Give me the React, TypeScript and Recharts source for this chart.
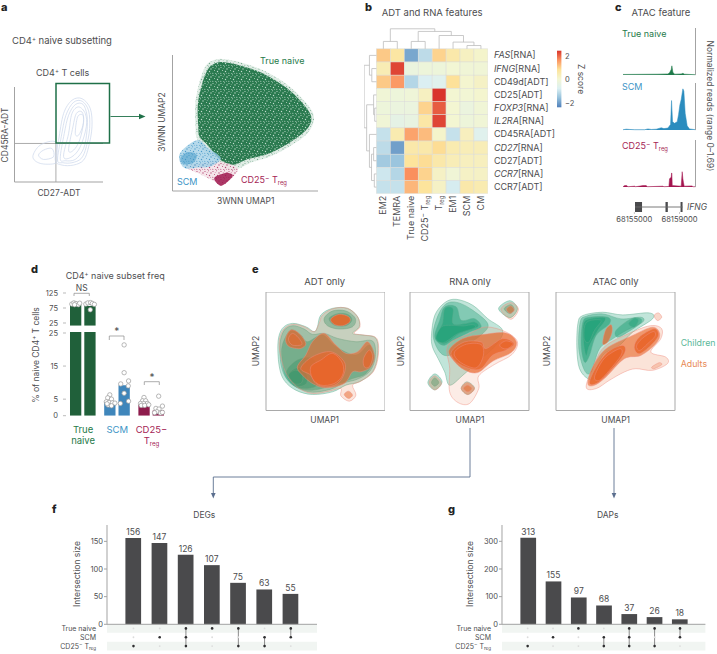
import React from 'react';
import {
  Area, AreaChart, Bar, BarChart, CartesianGrid, Cell as CellFill, LabelList, ReferenceArea, ReferenceLine,
  Scatter, ScatterChart, XAxis, YAxis,
} from 'recharts';

const FONT = 'Inter, "Noto Sans", sans-serif';
const INK = '#4d4d4f';
const GREEN = '#1f7a4a';
const BLUE = '#3d95c6';
const CRIMSON = '#a51e55';

// panel a
const gateMain = [
  [[165, 480], [175, 420], [190, 340], [215, 300], [245, 295], [270, 325], [275, 380], [265, 440], [250, 480], [220, 495], [185, 495]],
  [[172, 480], [183, 410], [197, 345], [220, 306], [246, 303], [265, 332], [268, 385], [258, 440], [243, 475], [215, 488], [188, 488]],
  [[180, 475], [192, 400], [205, 345], [225, 313], [248, 312], [260, 345], [260, 392], [250, 445], [225, 478], [195, 482]],
  [[190, 470], [205, 400], [215, 340], [235, 320], [255, 340], [258, 380], [240, 440], [215, 470]],
  [[205, 450], [218, 380], [228, 340], [245, 335], [250, 365], [238, 420], [220, 450]],
  [[225, 400], [232, 350], [248, 345], [248, 375], [235, 405]],
  [[98, 470], [120, 435], [165, 425], [170, 470], [165, 490], [120, 490]],
  [[115, 465], [130, 450], [155, 445], [160, 470], [130, 478]],
];
const umapNaive = [[100, 230], [100, 150], [125, 65], [155, 38], [190, 38], [240, 50], [300, 72], [370, 115], [425, 170], [442, 205], [425, 240], [370, 280], [310, 310], [250, 325], [215, 340], [190, 340], [160, 322], [130, 285], [105, 260]];
const umapNaiveHalo = [[92, 235], [92, 150], [118, 55], [155, 28], [195, 30], [245, 42], [305, 65], [375, 108], [432, 165], [450, 205], [430, 248], [375, 288], [315, 318], [260, 335], [225, 352], [195, 358], [150, 330], [110, 290], [95, 260]];
const umapScm = [[42, 325], [52, 298], [98, 268], [130, 292], [168, 322], [140, 346], [100, 350], [60, 352]];
const umapScmCore = [[46, 322], [68, 304], [95, 312], [85, 336], [55, 340]];
const umapTreg = [[60, 348], [100, 338], [160, 332], [218, 350], [205, 378], [170, 404], [150, 392], [110, 372]];
const umapTregCore = [[148, 382], [175, 368], [190, 366], [204, 376], [170, 404]];

// panel b
const heatCols = ['EM2', 'TEMRA', 'True naive', 'CD25− Treg', 'Treg', 'EM1', 'SCM', 'CM'];
const heatRows = ['FAS[RNA]', 'IFNG[RNA]', 'CD49d[ADT]', 'CD25[ADT]', 'FOXP3[RNA]', 'IL2RA[RNA]', 'CD45RA[ADT]', 'CD27[RNA]', 'CD27[ADT]', 'CCR7[RNA]', 'CCR7[ADT]'];
const heatZ = [
  [1.1, 0.7, -2.0, -1.2, 1.0, 0.6, 0.25, 0.1],
  [0.45, 2.35, -0.3, -0.2, -0.2, -0.05, -0.1, -0.1],
  [1.1, 1.6, -1.3, -0.85, -0.7, 0.85, 0.05, 0.2],
  [-0.1, -0.2, -0.15, 0.25, 2.5, 0, -0.05, 0.05],
  [-0.2, -0.3, -0.3, 1.0, 2.15, 0, -0.3, -0.1],
  [-0.1, -0.5, -0.4, 0.65, 2.35, 0, -0.2, -0.1],
  [-1.1, 0.5, 1.5, 1.25, 0.1, -1.1, 0.3, -0.7],
  [-1.2, -2.1, 0.6, 0.6, 0.9, 0.5, 0.4, 0.4],
  [-1.5, -1.6, 0.8, 0.9, 0.6, 0.4, 0.3, 0.3],
  [-1.0, -1.3, 1.7, 1.0, 0.2, -0.1, 0.2, 0.2],
  [-1.1, -1.1, 1.3, 0.8, 0.2, -0.9, 0.6, 0.5],
];
const colBranches = [
  [0.5, 1.5, 0, 0, -0.56], [2.5, 3.5, 0, 0, -0.56], [6.5, 7.5, 0, 0, -0.25], [5.5, 7, 0, -0.25, -0.51],
  [4.5, 6.25, 0, -0.51, -1.01], [3, 5.375, -0.56, -1.01, -1.32], [1, 4.19, -0.56, -1.32, -1.52],
];
const rowBranches = [
  [1.5, 2.5, 0, 0, -0.33], [0.5, 2, 0, -0.33, -0.5], [4.5, 5.5, 0, 0, -0.12], [3.5, 5, 0, -0.12, -0.2],
  [7.5, 8.5, 0, 0, -0.2], [9.5, 10.5, 0, 0, -0.15], [8, 10, -0.2, -0.15, -0.35], [6.5, 9, 0, -0.35, -0.5],
  [4.25, 7.75, -0.2, -0.5, -0.7], [1.25, 6, -0.5, -0.7, -0.88],
];

// panel c
const trackNaive = [[25, .02], [130, .03], [160, .04], [165, .08], [170, .2], [172, .33], [175, .1], [180, .03], [200, .04], [205, .06], [210, .03], [243, .01]];
const trackScm = [[25, .01], [35, .03], [45, .02], [60, .01], [90, .01], [100, .04], [110, .02], [125, .03], [140, .08], [148, .05], [160, .07], [168, .2], [171, 1.06], [174, .3], [180, .24], [188, .3], [192, .55], [196, .9], [200, 1.1], [205, 1.48], [208, 1.4], [212, .6], [218, .15], [225, .04], [243, .01]];
const trackTreg = [[25, .01], [30, .05], [36, .05], [40, .01], [60, .03], [63, .01], [85, .05], [95, .05], [98, .01], [145, .03], [148, .01], [163, .02], [165, .3], [170, .35], [171, .5], [172, .5], [173, .05], [200, .03], [203, .55], [205, .3], [207, .15], [209, .03], [232, .04], [236, .01], [243, .01]];
const exonStarts = [68155059, 68157756, 68159089];
const exonEnds = [68155681, 68157963, 68159267];
const geneTicks = [68155000, 68159000];

// panel d
const subsetGroups = ['True naive', 'SCM', 'CD25− Treg'];
const childFreq = [86, 4.2, 3.3];
const adultFreq = [82, 9.2, 1.6];
const dotsUpper = [[.17, 88], [.23, 92], [.29, 90], [.36, 86], [.40, 91], [.25, 86], [.58, 88], [.64, 92], [.72, 93], [.77, 90], [.83, 87], [.71, 69]];
const dotsLower = [
  [1.28, 6.3], [1.22, 5.4], [1.33, 5], [1.18, 4.2], [1.26, 4], [1.36, 3.9], [1.43, 3.8], [1.23, 3.2], [1.33, 3], [1.2, 3.6],
  [1.7, 21.4], [1.7, 13], [1.83, 10.5], [1.6, 9.6], [1.82, 9], [1.7, 6.8], [1.83, 4.4], [1.59, 3.7],
  [2.28, 5.5], [2.24, 4.5], [2.33, 4.5], [2.18, 3.7], [2.28, 3.7], [2.38, 3.7], [2.2, 3.1], [2.3, 3.1], [2.42, 3.3],
  [2.71, 5.9], [2.82, 2.9], [2.63, 2.2], [2.72, 2], [2.66, 1.2], [2.76, .8], [2.82, 1], [2.59, .9],
];

// panel e, contours from outermost to innermost
const adtChildren = [
  [[47, 160], [60, 120], [90, 105], [130, 115], [155, 130], [165, 115], [175, 80], [210, 60], [255, 60], [285, 85], [290, 115], [270, 135], [300, 140], [340, 150], [345, 200], [330, 250], [290, 280], [250, 290], [210, 310], [150, 318], [100, 305], [65, 275], [50, 230]],
  [[53, 165], [66, 125], [92, 112], [125, 122], [150, 138], [185, 135], [225, 150], [280, 160], [330, 158], [338, 205], [322, 248], [285, 272], [245, 283], [205, 302], [150, 311], [105, 298], [72, 270], [56, 228]],
  [[185, 90], [210, 68], [250, 68], [278, 90], [270, 115], [230, 122], [195, 112]],
  [[200, 90], [225, 76], [255, 78], [268, 95], [250, 112], [215, 110]],
  [[60, 170], [85, 125], [115, 140], [135, 160], [180, 140], [220, 175], [280, 200], [320, 170], [335, 210], [310, 255], [270, 270], [230, 285], [150, 305], [100, 295], [70, 265], [60, 220]],
  [[72, 250], [105, 215], [150, 210], [170, 250], [165, 290], [120, 300], [88, 285]],
  [[78, 260], [105, 238], [132, 255], [132, 285], [105, 292]],
  [[78, 260], [100, 245], [120, 260], [118, 282], [98, 286]],
];
const adtAdults = [
  [[50, 165], [62, 125], [90, 108], [125, 115], [155, 130], [170, 105], [180, 80], [215, 60], [255, 60], [285, 85], [292, 115], [275, 135], [305, 140], [342, 150], [347, 200], [332, 250], [295, 278], [270, 290], [280, 320], [260, 338], [235, 322], [235, 300], [200, 308], [150, 315], [110, 300], [80, 270], [60, 225]],
  [[70, 150], [85, 125], [110, 135], [130, 165], [115, 180], [90, 178], [75, 170]],
  [[78, 152], [90, 135], [108, 148], [118, 168], [90, 170]],
  [[205, 92], [230, 78], [258, 85], [262, 100], [240, 112], [215, 108]],
  [[105, 235], [130, 200], [150, 160], [185, 135], [220, 170], [250, 195], [285, 190], [315, 160], [335, 200], [325, 235], [295, 250], [270, 250], [245, 285], [190, 298], [150, 285], [120, 260]],
  [[115, 240], [150, 205], [205, 190], [245, 220], [245, 255], [225, 285], [190, 295], [160, 285], [145, 260]],
  [[145, 235], [175, 215], [210, 195], [240, 225], [240, 260], [215, 285], [175, 290], [150, 270]],
  [[303, 210], [320, 185], [330, 205], [320, 235], [305, 235]],
  [[245, 318], [258, 308], [270, 320], [258, 330]],
];
const rnaChildren = [
  [[75, 140], [85, 80], [115, 42], [150, 32], [200, 50], [245, 90], [290, 125], [270, 170], [220, 215], [170, 260], [130, 290], [115, 250], [95, 210], [78, 175]],
  [[80, 140], [95, 80], [120, 45], [155, 42], [200, 65], [245, 105], [230, 135], [180, 170], [130, 200], [100, 190]],
  [[85, 145], [100, 95], [115, 55], [150, 55], [165, 95], [205, 90], [225, 115], [190, 130], [140, 155], [110, 170]],
  [[90, 145], [108, 105], [115, 60], [140, 60], [140, 105], [175, 105], [205, 100], [215, 115], [160, 135], [115, 165]],
  [[88, 150], [105, 115], [135, 110], [170, 112], [200, 108], [205, 118], [155, 135], [112, 162]],
  [[64, 282], [85, 256], [107, 280], [85, 304]],
  [[75, 282], [85, 268], [97, 282], [85, 293]],
  [[278, 60], [312, 36], [335, 60], [312, 87]],
  [[295, 60], [315, 48], [325, 62], [312, 75]],
  [[165, 300], [182, 280], [205, 298], [185, 318]],
];
const rnaAdults = [
  [[125, 170], [190, 135], [240, 115], [300, 130], [335, 160], [318, 198], [265, 228], [218, 262], [218, 300], [190, 345], [155, 342], [130, 310], [130, 240]],
  [[128, 185], [170, 150], [230, 138], [300, 133], [332, 160], [316, 192], [260, 218], [215, 252], [175, 244], [143, 217]],
  [[135, 190], [175, 160], [225, 160], [240, 180], [290, 150], [325, 165], [300, 185], [260, 200], [225, 240], [190, 240], [150, 220]],
  [[145, 190], [180, 167], [225, 168], [232, 200], [215, 235], [190, 235], [155, 215]],
  [[282, 168], [300, 157], [322, 165], [305, 180], [288, 178]],
  [[165, 300], [183, 282], [205, 300], [185, 318]],
  [[172, 300], [184, 290], [197, 300], [185, 310]],
  [[68, 282], [85, 262], [105, 285], [85, 304]],
  [[285, 62], [315, 42], [338, 62], [315, 92]],
  [[302, 62], [315, 52], [325, 64], [313, 74]],
];
const atacChildren = [
  [[72, 180], [75, 105], [90, 80], [150, 70], [210, 78], [290, 72], [300, 90], [240, 130], [200, 170], [150, 200], [125, 265], [105, 270], [80, 240]],
  [[78, 180], [82, 100], [100, 82], [150, 75], [205, 90], [265, 85], [270, 100], [220, 125], [180, 150], [140, 180], [115, 250], [95, 245]],
  [[85, 170], [90, 100], [110, 85], [165, 85], [170, 105], [130, 140], [110, 200], [95, 220]],
  [[92, 160], [92, 105], [110, 90], [158, 88], [135, 125], [110, 170], [100, 200]],
  [[94, 150], [96, 110], [112, 95], [145, 95], [125, 125], [108, 160]],
  [[190, 125], [235, 90], [265, 90], [262, 105], [225, 130], [195, 145]],
  [[228, 105], [245, 88], [258, 95], [245, 115]],
];
const atacAdults = [
  [[100, 295], [125, 225], [160, 170], [250, 125], [300, 110], [328, 120], [325, 150], [295, 190], [340, 205], [345, 225], [300, 245], [250, 240], [215, 250], [170, 275], [130, 300]],
  [[305, 80], [318, 72], [328, 85], [315, 95]],
  [[105, 285], [120, 235], [160, 180], [240, 140], [300, 115], [322, 135], [310, 165], [265, 200], [215, 210], [160, 265], [125, 290]],
  [[110, 282], [130, 235], [165, 190], [210, 170], [215, 195], [165, 255], [130, 285]],
  [[245, 175], [260, 145], [305, 120], [318, 140], [295, 170], [260, 195]],
  [[150, 165], [158, 125], [175, 108], [178, 130], [165, 160]],
  [[125, 265], [150, 215], [180, 190], [205, 180], [205, 200], [170, 245], [140, 275]],
  [[252, 172], [268, 150], [302, 128], [308, 142], [285, 165], [262, 185]],
  [[298, 235], [320, 222], [328, 228], [305, 240]],
];

// panels f and g
const degSizes = [156, 147, 126, 107, 75, 63, 55];
const dapSizes = [313, 155, 97, 68, 37, 26, 18];
const degSets = [[2], [1], [0, 1, 2], [0], [0, 2], [1, 2], [0, 1]];
const dapSets = [[2], [1], [0], [1, 2], [0, 1, 2], [0, 2], [0, 1]];
const setNames = ['True naive', 'SCM', 'CD25− Treg'];

const toPts = (list: number[][]) => list.map(([x, y]) => ({ x, y }));
const NoDot = () => <g />;

// closed curve through the listed points, handed to Scatter as lineJointType
const throughPoints = (ctx: any) => {
  let p: number[][] = [];
  return {
    areaStart() {},
    areaEnd() {},
    lineStart() { p = []; },
    point(x: number, y: number) { p.push([+x, +y]); },
    lineEnd() {
      const n = p.length;
      if (!n) return;
      ctx.moveTo(p[0][0], p[0][1]);
      for (let i = 0; i < n; i++) {
        const a = p[(i - 1 + n) % n];
        const b = p[i];
        const c = p[(i + 1) % n];
        const d = p[(i + 2) % n];
        ctx.bezierCurveTo(b[0] + (c[0] - a[0]) / 6, b[1] + (c[1] - a[1]) / 6, c[0] - (d[0] - b[0]) / 6, c[1] - (d[1] - b[1]) / 6, c[0], c[1]);
      }
      ctx.closePath();
    },
  };
};

const RAMP = ['#4f7fba', '#95c1dc', '#dcf0f2', '#f3f6d2', '#fde39a', '#fb9360', '#d9342b'];
function zColor(z: number) {
  const t = Math.max(0, Math.min(0.9999, (z + 2.5) / 5)) * (RAMP.length - 1);
  const i = Math.floor(t);
  const mix = (o: number) => {
    const pa = parseInt(RAMP[i].slice(o, o + 2), 16);
    const pb = parseInt(RAMP[i + 1].slice(o, o + 2), 16);
    return Math.round(pa + (pb - pa) * (t - i));
  };
  return `rgb(${mix(1)},${mix(3)},${mix(5)})`;
}

function blob(pts: number[][], key: string, fill: string, stroke: string, fillOpacity = 1, strokeWidth = 0.5, filter?: string) {
  return (
    <Scatter
      key={key}
      data={toPts(pts)}
      line={{ fill, fillOpacity, stroke, strokeWidth, strokeOpacity: 0.9, filter } as any}
      lineJointType={throughPoints as any}
      shape={NoDot}
      isAnimationActive={false}
    />
  );
}

function branch(b: number[], key: string, vertical: boolean) {
  const [a, c, ya, yc, top] = b;
  const raw = [[a, ya], [a, top], [c, top], [c, yc]];
  const pts = vertical ? raw.map(([p, q]) => ({ x: q, y: p })) : raw.map(([p, q]) => ({ x: p, y: q }));
  return (
    <Scatter key={key} data={pts} line={{ stroke: '#bdbdbd', strokeWidth: 0.8 }} lineJointType="linear" shape={NoDot} isAnimationActive={false} />
  );
}

function At({ x, y, children }: { x: number; y: number; children: React.ReactNode }) {
  return <div style={{ position: 'absolute', left: x, top: y }}>{children}</div>;
}

function Treg({ s }: { s: number }) {
  return (
    <>
      <tspan>CD25</tspan>
      <tspan dy={-s * 0.3} fontSize={s * 0.75}>−</tspan>
      <tspan dy={s * 0.3}> T</tspan>
      <tspan dy={s * 0.22} fontSize={s * 0.65}>reg</tspan>
    </>
  );
}

function Label({ value, s }: { value: string; s: number }) {
  if (value === 'CD25− Treg') return <Treg s={s} />;
  if (value === 'Treg') {
    return (
      <>
        <tspan>T</tspan>
        <tspan dy={s * 0.22} fontSize={s * 0.65}>reg</tspan>
      </>
    );
  }
  const open = value.indexOf('[');
  if (open > 0 && value.includes('[RNA]')) {
    return (
      <>
        <tspan fontStyle="italic">{value.slice(0, open)}</tspan>
        <tspan>{value.slice(open)}</tspan>
      </>
    );
  }
  return <tspan>{value}</tspan>;
}

function T({ x, y, children, size = 9.5, color = INK, anchor = 'start', rot, bold, italic }: any) {
  return (
    <text
      x={x}
      y={y}
      fontSize={size}
      fill={color}
      textAnchor={anchor}
      fontFamily={FONT}
      fontWeight={bold ? 800 : 400}
      fontStyle={italic ? 'italic' : undefined}
      transform={rot ? `rotate(${rot} ${x} ${y})` : undefined}
    >
      {children}
    </text>
  );
}

const tickStyle = { fontSize: 7.5, fill: INK, fontFamily: FONT };
const GRAY = '#a3a3a3';

function GatePlot() {
  return (
    <At x={4} y={80}>
      <ScatterChart width={102} height={110} margin={{ top: 7, right: 3, left: 0, bottom: 0 }}>
        <XAxis type="number" dataKey="x" domain={[43, 308]} ticks={[55, 118, 183, 247]} tick={false} height={8} tickSize={3} stroke={GRAY} interval={0} allowDataOverflow />
        <YAxis type="number" dataKey="y" domain={[260, 546]} reversed ticks={[300, 368, 506]} tick={false} width={10.5} tickSize={3} stroke={GRAY} interval={0} allowDataOverflow />
        {gateMain.map((c, i) => blob(c, `g${i}`, 'none', '#cdd8ec', 1, 0.8))}
        <ReferenceLine y={430} stroke={GRAY} strokeWidth={0.9} />
        <ReferenceLine segment={[{ x: 167, y: 430 }, { x: 167, y: 546 }]} stroke={GRAY} strokeWidth={0.9} />
      </ScatterChart>
    </At>
  );
}

function UmapPlot() {
  const soft = 'url(#soft)';
  return (
    <At x={164} y={50}>
      <ScatterChart width={156} height={146} margin={{ top: 5, right: 2, left: 0, bottom: 0 }}>
        <XAxis type="number" dataKey="x" domain={[22, 462]} ticks={[125, 238, 352]} tick={false} height={5} tickSize={3} stroke={GRAY} interval={0} allowDataOverflow />
        <YAxis type="number" dataKey="y" domain={[15, 420]} reversed ticks={[93, 205, 315]} tick={false} width={8.5} tickSize={3} stroke={GRAY} interval={0} allowDataOverflow />
        {blob(umapNaiveHalo, 'nh', 'url(#speckHalo)', 'none', 1, 0, soft)}
        {blob(umapNaive, 'n', 'url(#speckGreen)', 'none', 1, 0, soft)}
        {blob(umapTreg, 't', 'url(#speckPink)', 'none', 1, 0, soft)}
        {blob(umapScm, 's', 'url(#speckBlue)', 'none', 1, 0, soft)}
        {blob(umapScmCore, 'sc', BLUE, 'none', 0.5, 0, soft)}
        {blob(umapTregCore, 'tc', '#a01a50', 'none', 0.85, 0, soft)}
      </ScatterChart>
    </At>
  );
}

function Heatmap() {
  const cells = heatZ.flatMap((row, r) => row.map((z, c) => ({ x: c + 0.5, y: r + 0.5, z })));
  const CW = 13.93;
  const CH = 13.15;
  const Cell = (p: any) => (
    <rect x={p.cx - CW / 2} y={p.cy - CH / 2} width={CW} height={CH} fill={zColor(p.payload.z)} stroke="#dcdcd8" strokeWidth={0.5} />
  );
  const ColTick = ({ x, y, payload }: any) => {
    const label = heatCols[Math.round(payload.value - 0.5)];
    return (
      <text transform={`translate(${x + 3} ${y - 6}) rotate(-90)`} textAnchor="end" fontSize={9} fill={INK} fontFamily={FONT}>
        <Label value={label} s={9} />
      </text>
    );
  };
  const RowTick = ({ x, y, payload }: any) => (
    <text x={x - 2} y={y + 3} fontSize={9} fill={INK} fontFamily={FONT}>
      <Label value={heatRows[Math.round(payload.value - 0.5)]} s={9} />
    </text>
  );
  return (
    <At x={363.8} y={28}>
      <ScatterChart width={123.9 + 76} height={165.7 + 62} margin={{ top: 0, right: 0, left: 0, bottom: 0 }}>
        <XAxis type="number" dataKey="x" domain={[-0.89, 8]} ticks={heatCols.map((_, i) => i + 0.5)} height={62} axisLine={false} tickLine={false} tick={<ColTick />} interval={0} allowDataOverflow />
        <YAxis type="number" dataKey="y" orientation="right" domain={[-1.58, 11]} reversed ticks={heatRows.map((_, i) => i + 0.5)} width={76} axisLine={false} tickLine={false} tick={<RowTick />} interval={0} allowDataOverflow />
        <Scatter data={cells} shape={Cell} isAnimationActive={false} />
        {colBranches.map((b, i) => branch(b, `c${i}`, false))}
        {rowBranches.map((b, i) => branch(b, `r${i}`, true))}
      </ScatterChart>
    </At>
  );
}

function Track({ data, color, top }: { data: number[][]; color: string; top: number }) {
  const rows = data.map(([pos, reads]) => ({ pos, reads }));
  return (
    <At x={623.3} y={top}>
      <AreaChart width={73.5} height={49} data={rows} margin={{ top: 1, right: 0, left: 0, bottom: 0 }}>
        <XAxis type="number" dataKey="pos" domain={[25, 243]} tick={false} tickLine={false} axisLine={false} height={1} />
        <YAxis orientation="right" domain={[0, 1.69]} ticks={[]} tick={false} tickLine={false} stroke={GRAY} width={1} />
        <Area type="linear" dataKey="reads" stroke={color} strokeWidth={0.5} fill={color} fillOpacity={1} isAnimationActive={false} />
      </AreaChart>
    </At>
  );
}

function GeneModel() {
  return (
    <At x={611} y={201}>
      <ScatterChart width={97} height={28} margin={{ top: 1, right: 11.7, left: 0, bottom: 0 }}>
        <XAxis
          type="number"
          dataKey="x"
          domain={[68154022, 68160484]}
          ticks={geneTicks}
          axisLine={false}
          tickSize={2}
          tickMargin={3}
          stroke="#c8c8c8"
          height={17}
          interval={0}
          tick={{ fontSize: 7.6, fill: INK, fontFamily: FONT }}
          tickFormatter={(v: number) => String(v)}
        />
        <YAxis type="number" dataKey="y" domain={[0, 1]} tick={false} axisLine={false} tickLine={false} width={12.3} />
        <Scatter data={exonStarts.map((x) => ({ x, y: 0.5 }))} shape={NoDot} isAnimationActive={false} />
        <ReferenceLine segment={[{ x: exonStarts[0], y: 0.5 }, { x: exonEnds[2], y: 0.5 }]} stroke="#6b6b6b" strokeWidth={0.9} />
        {exonStarts.map((s, i) => (
          <ReferenceArea key={s} x1={s} x2={exonEnds[i]} y1={0} y2={1} fill="#4a4a4c" fillOpacity={1} stroke="none" />
        ))}
      </ScatterChart>
    </At>
  );
}

function SubsetBars() {
  const rows = subsetGroups.map((name, i) => ({ name, child: childFreq[i], adult: adultFreq[i] }));
  const upperRows = rows.map((r, i) => (i === 0 ? r : { name: r.name, child: null, adult: null }));
  const colors = ['#20603a', '#3f86bb', '#8e1c4c'];
  const GroupTick = ({ x, y, payload }: any) => {
    const i = subsetGroups.indexOf(payload.value);
    const lines = [['True', 'naive'], ['SCM'], ['CD25−', 'Treg']][i];
    return (
      <text x={x} y={y + 9} textAnchor="middle" fontSize={9.5} fill={[GREEN, BLUE, CRIMSON][i]} fontFamily={FONT}>
        {lines.map((l, k) => (
          <tspan key={l} x={x} dy={k === 0 ? 0 : 11.5}>
            {l === 'Treg' ? <Label value="Treg" s={9.5} /> : l}
          </tspan>
        ))}
      </text>
    );
  };
  const bars = (dataKey: string) => (
    <Bar dataKey={dataKey} barSize={11.3} isAnimationActive={false}>
      {rows.map((_, i) => <CellFill key={i} fill={colors[i]} />)}
    </Bar>
  );
  const Dot = (p: any) => <circle cx={p.cx} cy={p.cy} r={2.2} fill="#fff" stroke="#9a9a9a" strokeWidth={0.7} />;
  const pad = { top: 6, right: 0, left: 0, bottom: 0 };
  return (
    <>
      <At x={36.2} y={287.3}>
        <BarChart width={132.6} height={39.7} data={upperRows} margin={pad} barGap={3}>
          <XAxis dataKey="name" tick={false} tickLine={false} axisLine={false} height={1} />
          <YAxis type="number" domain={[16, 125]} ticks={[25, 75, 125]} width={30} tick={tickStyle} axisLine={false} tickSize={3} tickMargin={5} stroke="#bbb" interval={0} allowDataOverflow />
          {bars('child')}
          {bars('adult')}
        </BarChart>
      </At>
      <At x={36.2} y={326}>
        <BarChart width={132.6} height={122} data={rows} margin={pad} barGap={3}>
          <XAxis dataKey="name" tickLine={false} axisLine={false} height={32.3} tick={<GroupTick />} interval={0} />
          <YAxis type="number" domain={[0, 25.3]} ticks={[0, 5, 15, 25]} width={30} tick={tickStyle} axisLine={false} tickSize={3} tickMargin={5} stroke="#bbb" interval={0} allowDataOverflow />
          {bars('child')}
          {bars('adult')}
        </BarChart>
      </At>
      <At x={36.2} y={287.3}>
        <ScatterChart width={132.6} height={39.7} margin={pad}>
          <XAxis type="number" dataKey="x" domain={[0, 3]} tick={false} tickLine={false} axisLine={false} height={1} />
          <YAxis type="number" dataKey="y" domain={[16, 125]} tick={false} tickLine={false} axisLine={false} width={30} allowDataOverflow />
          <Scatter data={toPts(dotsUpper)} shape={Dot} isAnimationActive={false} />
        </ScatterChart>
      </At>
      <At x={36.2} y={326}>
        <ScatterChart width={132.6} height={90.7} margin={pad}>
          <XAxis type="number" dataKey="x" domain={[0, 3]} tick={false} tickLine={false} axisLine={false} height={1} />
          <YAxis type="number" dataKey="y" domain={[0, 25.3]} tick={false} tickLine={false} axisLine={false} width={30} allowDataOverflow />
          <Scatter data={toPts(dotsLower)} shape={Dot} isAnimationActive={false} />
        </ScatterChart>
      </At>
    </>
  );
}

function Density({ x, dom, children, adults, xt, yt, xg, yg, cOp, aOp }: any) {
  const [lo, hi, ylo, yhi] = dom;
  const haze = 'url(#haze)';
  return (
    <At x={x - 5} y={291.7}>
      <ScatterChart width={124.5} height={123.5} margin={{ top: 0, right: 0.5, left: 0, bottom: 0 }}>
        <CartesianGrid stroke="#e4e4e8" strokeWidth={0.8} verticalValues={xg} horizontalValues={yg} />
        <XAxis type="number" dataKey="x" domain={[lo, hi]} ticks={xt} tick={false} height={5} tickSize={2.5} stroke={GRAY} interval={0} axisLine={false} allowDataOverflow />
        <YAxis type="number" dataKey="y" domain={[ylo, yhi]} reversed ticks={yt} tick={false} width={5} tickSize={2.5} stroke={GRAY} interval={0} axisLine={false} allowDataOverflow />
        {children.map((c: number[][], i: number) => blob(c, `c${i}`, '#27a37b', '#5aad8f', cOp[i], 0.5, haze))}
        {adults.map((c: number[][], i: number) => blob(c, `a${i}`, '#e8652a', '#ef8f80', aOp[i], 0.5, haze))}
        <ReferenceArea x1={lo} x2={hi} y1={ylo} y2={yhi} fill="none" stroke="#a9a9a9" strokeWidth={1} />
      </ScatterChart>
    </At>
  );
}

function UpSet({ x0, x1, sizes, sets, top, yticks, names }: any) {
  const rows = sizes.map((v: number, i: number) => ({ name: `s${i}`, v }));
  const width = x1 - x0;
  const pad = 30;
  const on = sets.flatMap((s: number[], c: number) => s.map((r: number) => ({ x: c, y: r + 0.5 })));
  const off = sets.flatMap((s: number[], c: number) => [0, 1, 2].filter((r) => !s.includes(r)).map((r) => ({ x: c, y: r + 0.5 })));
  const Small = (p: any) => <circle cx={p.cx} cy={p.cy} r={0.9} fill="#dcdcdc" />;
  const Big = (p: any) => <circle cx={p.cx} cy={p.cy} r={1.3} fill="#2e2e30" />;
  const RowTick = ({ x, y, payload }: any) => (
    <text x={x - 3} y={y + 2.5} textAnchor="end" fontSize={7} fill={INK} fontFamily={FONT}>
      <Label value={names[Math.round(payload.value - 0.5)]} s={7} />
    </text>
  );
  return (
    <>
      <At x={x0 - 60} y={624.3}>
        <ScatterChart width={width + 60} height={27} margin={{ top: 0, right: 0, left: 0, bottom: 0 }}>
          <XAxis type="number" dataKey="x" domain={[-1.01, 7]} tick={false} tickLine={false} axisLine={false} height={0.5} />
          <YAxis type="number" dataKey="y" domain={[0, 3]} reversed ticks={[0.5, 1.5, 2.5]} width={60} axisLine={false} tickLine={false} tick={<RowTick />} interval={0} />
          <ReferenceArea x1={-1.01} x2={7} y1={0} y2={1} fill="#f1f5f2" fillOpacity={1} stroke="none" />
          <ReferenceArea x1={-1.01} x2={7} y1={2} y2={3} fill="#f1f5f2" fillOpacity={1} stroke="none" />
          {sets.map((s: number[], c: number) => s.length > 1 && (
            <Scatter
              key={c}
              data={[{ x: c, y: Math.min(...s) + 0.5 }, { x: c, y: Math.max(...s) + 0.5 }]}
              line={{ stroke: '#6d6d6d', strokeWidth: 0.8 }}
              lineJointType="linear"
              shape={NoDot}
              isAnimationActive={false}
            />
          ))}
          <Scatter data={off} shape={Small} isAnimationActive={false} />
          <Scatter data={on} shape={Big} isAnimationActive={false} />
        </ScatterChart>
      </At>
      <At x={x0 - pad} y={525}>
        <BarChart width={width + pad} height={105} data={rows} margin={{ top: 0, right: 0, left: 0, bottom: 0 }}>
          <XAxis dataKey="name" tick={false} tickLine={false} height={5.7} stroke={GRAY} padding={{ left: 13.4, right: 13.2 }} />
          <YAxis type="number" domain={[0, top]} ticks={yticks} width={pad} tick={tickStyle} tickSize={3} tickMargin={1} stroke={GRAY} interval={0} />
          <Bar dataKey="v" fill="#4a4a4c" barSize={15.7} isAnimationActive={false}>
            <LabelList dataKey="v" position="top" offset={3} fontSize={8.5} fill={INK} fontFamily={FONT} />
          </Bar>
        </BarChart>
      </At>
    </>
  );
}

function Arrow({ d, color, tip }: { d: string; color: string; tip: string }) {
  return (
    <>
      <path d={d} fill="none" stroke={color} strokeWidth={0.9} />
      <polygon points={tip} fill={color} />
    </>
  );
}

function Notes() {
  return (
    <svg width={717} height={654} style={{ position: 'absolute', left: 0, top: 0, pointerEvents: 'none' }}>
      <defs>
        <linearGradient id="zbar" x1="0" y1="1" x2="0" y2="0">
          {RAMP.map((c, i) => <stop key={c} offset={i / (RAMP.length - 1)} stopColor={c} />)}
        </linearGradient>
      </defs>
      <T x={1} y={11} size={11} bold color="#222">a</T>
      <T x={12} y={43.5}>CD4<tspan dy={-3} fontSize={6}>+</tspan><tspan dy={3}> naive subsetting</tspan></T>
      <T x={36} y={75.5} size={9}>CD4<tspan dy={-3} fontSize={6}>+</tspan><tspan dy={3}> T cells</tspan></T>
      <T x={8} y={135} rot={-90} anchor="middle" size={8.5}>CD45RA-ADT</T>
      <T x={59} y={196} anchor="middle" size={8.5}>CD27-ADT</T>
      <rect x={56} y={83.5} width={53.5} height={59.5} fill="none" stroke="#1f7048" strokeWidth={1.5} />
      <Arrow d="M110.5 116.5 H140" color="#1f7048" tip="139,113.8 145.5,116.5 139,119.2" />
      <T x={245.7} y={204} anchor="middle" size={8.5}>3WNN UMAP1</T>
      <T x={165} y={122} rot={-90} anchor="middle" size={8.5}>3WNN UMAP2</T>
      <T x={260} y={64} color={GREEN} size={9}>True naive</T>
      <T x={177} y={185} color={BLUE} size={9}>SCM</T>
      <T x={241} y={183} color={CRIMSON} size={9}><Treg s={9} /></T>

      <T x={365} y={11} size={11} bold color="#222">b</T>
      <T x={381.7} y={16}>ADT and RNA features</T>
      <rect x={557} y={50.7} width={4.4} height={56.6} fill="url(#zbar)" />
      <T x={565} y={59} size={7.5}>2</T>
      <T x={565} y={82} size={7.5}>0</T>
      <T x={565} y={105.5} size={7.5}>−2</T>
      <T x={578} y={79} rot={90} anchor="middle" size={8.5}>Z score</T>

      <T x={615} y={11} size={11} bold color="#222">c</T>
      <T x={631.5} y={16}>ATAC feature</T>
      <T x={622} y={37} color={GREEN} size={9}>True naive</T>
      <T x={622} y={90} color={BLUE} size={9}>SCM</T>
      <T x={622} y={149} color={CRIMSON} size={9}><Treg s={9} /></T>
      <T x={707} y={106} rot={90} anchor="middle" size={8.5}>Normalized reads (range 0–1.69)</T>
      <T x={687} y={210} italic size={8.5}>IFNG</T>

      <T x={31} y={273} size={11} bold color="#222">d</T>
      <T x={65.7} y={279} size={9}>CD4<tspan dy={-3} fontSize={6}>+</tspan><tspan dy={3}> naive subset freq</tspan></T>
      <T x={39} y={355} rot={-90} anchor="middle" size={8.5}>% of naive CD4<tspan dy={-3} fontSize={6}>+</tspan><tspan dy={3}> T cells</tspan></T>
      <T x={81.7} y={291} anchor="middle" size={8.5}>NS</T>
      <path d="M74 296 V293.3 H89.3 V296 M109.3 340 V336 H124 V340 M144.3 385 V381.7 H159.3 V385" fill="none" stroke="#8a8a8a" strokeWidth={0.7} />
      <T x={116.7} y={335} anchor="middle" size={10}>*</T>
      <T x={152} y={380.5} anchor="middle" size={10}>*</T>

      <T x={252} y={273} size={11} bold color="#222">e</T>
      <T x={324.7} y={285} anchor="middle">ADT only</T>
      <T x={470} y={285} anchor="middle">RNA only</T>
      <T x={615.7} y={285} anchor="middle">ATAC only</T>
      <T x={324.7} y={423} anchor="middle" size={8.5}>UMAP1</T>
      <T x={470} y={423} anchor="middle" size={8.5}>UMAP1</T>
      <T x={615.7} y={423} anchor="middle" size={8.5}>UMAP1</T>
      <T x={259} y={351} rot={-90} anchor="middle" size={8.5}>UMAP2</T>
      <T x={404} y={351} rot={-90} anchor="middle" size={8.5}>UMAP2</T>
      <T x={550} y={351} rot={-90} anchor="middle" size={8.5}>UMAP2</T>
      <T x={680.7} y={345.7} color="#5cb799" size={8.8}>Children</T>
      <T x={680.7} y={367.3} color="#e88a55" size={8.8}>Adults</T>

      <Arrow d="M470 428 V477 H213.3 V494" color="#5b6f8f" tip="211,493 215.6,493 213.3,498.5" />
      <Arrow d="M614 428 V494" color="#5b6f8f" tip="611.7,493 616.3,493 614,498.5" />

      <T x={52} y={513} size={11} bold color="#222">f</T>
      <T x={204.3} y={518} anchor="middle" size={8.5}>DEGs</T>
      <T x={80} y={574} rot={-90} anchor="middle" size={8.5}>Intersection size</T>
      <T x={448} y={513} size={11} bold color="#222">g</T>
      <T x={607.7} y={518} anchor="middle" size={8.5}>DAPs</T>
      <T x={473} y={574} rot={-90} anchor="middle" size={8.5}>Intersection size</T>
    </svg>
  );
}

function Patterns() {
  const dots = (fill: string, o: number) => (
    <g fill={fill} fillOpacity={o}>
      <circle cx={1} cy={1.5} r={0.6} /><circle cx={4.5} cy={0.7} r={0.5} /><circle cx={7} cy={3} r={0.65} />
      <circle cx={2.5} cy={4.5} r={0.5} /><circle cx={5.5} cy={5.5} r={0.7} /><circle cx={0.8} cy={7.2} r={0.55} /><circle cx={3.8} cy={7.6} r={0.5} />
      <circle cx={3.2} cy={2.6} r={0.45} /><circle cx={6.4} cy={7.2} r={0.45} />
    </g>
  );
  return (
    <svg width={0} height={0} style={{ position: 'absolute' }}>
      <defs>
        <filter id="soft" x="-10%" y="-10%" width="120%" height="120%"><feGaussianBlur stdDeviation={0.55} /></filter>
        <filter id="haze" x="-10%" y="-10%" width="120%" height="120%"><feGaussianBlur stdDeviation={0.35} /></filter>
        <pattern id="speckGreen" width={8} height={8} patternUnits="userSpaceOnUse">
          <rect width={8} height={8} fill="#2a7a50" />
          {dots('#dcece2', 0.85)}
        </pattern>
        <pattern id="speckHalo" width={8} height={8} patternUnits="userSpaceOnUse">
          <rect width={8} height={8} fill="#c4dccd" fillOpacity={0.5} />
          {dots('#2a7a50', 0.55)}
        </pattern>
        <pattern id="speckBlue" width={8} height={8} patternUnits="userSpaceOnUse">
          <rect width={8} height={8} fill="#a3cfe6" fillOpacity={0.8} />
          {dots('#2f8bc0', 0.8)}
        </pattern>
        <pattern id="speckPink" width={8} height={8} patternUnits="userSpaceOnUse">
          <rect width={8} height={8} fill="#f3dfe5" fillOpacity={0.8} />
          {dots('#a51e55', 0.8)}
        </pattern>
      </defs>
    </svg>
  );
}

export default function App() {
  return (
    <div style={{ position: 'absolute', left: 0, top: 0, width: 717, height: 654, background: '#fff', overflow: 'hidden', fontFamily: FONT }}>
      <Patterns />
      <GatePlot />
      <UmapPlot />
      <Heatmap />
      <Track data={trackNaive} color="#1f7a4a" top={26.5} />
      <Track data={trackScm} color="#2b8cbe" top={82} />
      <Track data={trackTreg} color="#a3154f" top={138.7} />
      <GeneModel />
      <SubsetBars />
      <Density
        x={265.7}
        dom={[11, 367, 11, 366]}
        children={adtChildren}
        adults={adtAdults}
        xt={[25, 107, 188, 270, 352]}
        yt={[24, 115, 203, 292]}
        xg={[25, 66, 107, 148, 188, 229, 270, 311, 352]}
        yg={[24, 70, 115, 159, 203, 248, 292, 337]}
        cOp={[0.28, 0.3, 0.4, 0.5, 0.45, 0.55, 0.75, 0.85]}
        aOp={[0.16, 0.7, 0.5, 0.9, 0.62, 0.65, 0.95, 0.7, 0.5]}
      />
      <Density
        x={410.3}
        dom={[10, 370, 10, 366]}
        children={rnaChildren}
        adults={rnaAdults}
        xt={[80, 185, 290]}
        yt={[65, 163, 262, 360]}
        xg={[28, 80, 132, 185, 237, 290, 342]}
        yg={[15, 65, 115, 163, 213, 262, 312, 360]}
        cOp={[0.28, 0.4, 0.55, 0.65, 0.8, 0.35, 0.4, 0.35, 0.4, 0.2]}
        aOp={[0.12, 0.7, 0.7, 0.95, 0.7, 0.45, 0.5, 0.22, 0.18, 0.55]}
      />
      <Density
        x={556}
        dom={[9, 368, 9, 366]}
        children={atacChildren}
        adults={atacAdults}
        xt={[85, 182, 280]}
        yt={[75, 176, 277]}
        xg={[38, 85, 133, 182, 230, 280, 328]}
        yg={[25, 75, 126, 176, 227, 277, 327]}
        cOp={[0.28, 0.4, 0.6, 0.75, 0.85, 0.5, 0.55]}
        aOp={[0.18, 0.25, 0.6, 0.8, 0.8, 0.7, 0.9, 0.8, 0.25]}
      />
      <UpSet x0={107.3} x1={317.3} sizes={degSizes} sets={degSets} top={179.6} yticks={[0, 50, 100, 150]} names={setNames} />
      <UpSet x0={502.3} x1={705.7} sizes={dapSizes} sets={dapSets} top={359} yticks={[0, 100, 200, 300]} names={setNames} />
      <Notes />
    </div>
  );
}
